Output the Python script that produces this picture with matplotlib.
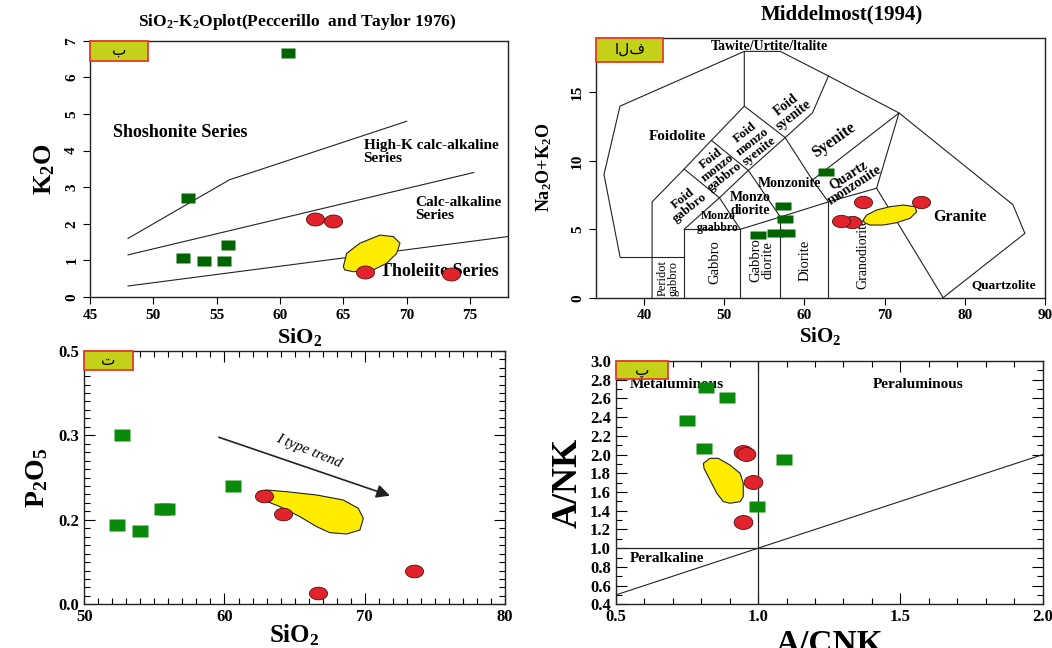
import numpy as np
import matplotlib
matplotlib.use('Agg')
import matplotlib.pyplot as plt
from matplotlib.patches import Polygon, Rectangle
from matplotlib.ticker import FixedLocator, MultipleLocator, FormatStrFormatter

plt.rcParams['font.family'] = ['Liberation Serif', 'DejaVu Sans']
plt.rcParams['font.weight'] = 'bold'
plt.rcParams['axes.labelweight'] = 'bold'
plt.rcParams['axes.titleweight'] = 'bold'
plt.rcParams['mathtext.default'] = 'regular'

# ---------------- data: panel (b) SiO2 - K2O ----------------
k_sio2_green = [60.6, 52.7, 55.9, 52.3, 54.0, 55.6]
k_k2o_green = [6.66, 2.70, 1.42, 1.06, 0.99, 0.99]
k_sio2_red = [62.8, 64.2, 66.7, 73.5]
k_k2o_red = [2.13, 2.08, 0.69, 0.62]
k_field_x = [65.0, 65.26, 66.31, 67.89, 68.94, 69.47, 69.21, 68.42, 67.36, 65.78, 65.1]
k_field_y = [0.83, 1.19, 1.47, 1.69, 1.65, 1.47, 1.19, 0.92, 0.74, 0.69, 0.74]
k_shoshonite_x = [48, 56, 70]
k_shoshonite_y = [1.6, 3.2, 4.8]
k_highk_x = [48, 75.3]
k_highk_y = [1.15, 3.4]
k_calc_x = [48, 78]
k_calc_y = [0.3, 1.65]

# ---------------- data: panel (alef) Middlemost TAS ----------------
t_sio2_green = [62.65, 57.3, 57.6, 54.2, 56.3, 57.85]
t_alk_green = [9.16, 6.7, 5.72, 4.58, 4.75, 4.7]
t_sio2_red = [67.3, 74.6, 65.9, 64.6]
t_alk_red = [7.0, 7.0, 5.55, 5.63]
t_field_x = [67.34, 67.76, 69.01, 70.67, 72.33, 73.8, 74.0, 73.17, 71.5, 69.84, 68.18, 67.47]
t_field_y = [5.68, 6.04, 6.41, 6.65, 6.77, 6.65, 6.28, 5.8, 5.48, 5.31, 5.31, 5.48]
tas_boundaries = [
    [(37, 3), (35, 9), (37, 14), (52.5, 18), (57, 18), (63, 16.2), (71.8, 13.5),
     (86, 6.8), (87.5, 4.7), (77.3, 0)],
    [(37, 3), (45, 3)],
    [(41, 0), (41, 7), (45, 9.4), (48.4, 11.5), (52.5, 14), (52.5, 18)],
    [(45, 0), (45, 5), (52, 5), (52, 0)],
    [(45, 5), (49.4, 7.3), (52, 5)],
    [(45, 9.4), (49.4, 7.3), (53, 9.3), (48.4, 11.5)],
    [(52.5, 14), (57.6, 11.7), (53, 9.3), (57, 5.9)],
    [(57.6, 11.7), (61, 13.5), (63, 16.2)],
    [(57.6, 11.7), (61, 8.6), (63, 7)],
    [(61, 8.6), (71.8, 13.5), (69, 8), (77.3, 0)],
    [(52, 5), (57, 5.9), (63, 7), (69, 8)],
    [(57, 0), (57, 5.9)],
    [(63, 0), (63, 7)],
]
# (text, x, y, rotation, bold, size)
tas_labels = [
    ('Tawite/Urtite/ltalite', 55.6, 18.35, 0, True, 10),
    ('Foidolite', 44.2, 11.8, 0, True, 11),
    ('Foid\nmonzo\nsyenite', 53.5, 11.4, 38, True, 9.5),
    ('Foid\nsyenite', 58.2, 13.7, 38, True, 10),
    ('Syenite', 63.7, 11.5, 35, True, 11.5),
    ('Foid\nmonzo\ngabbro', 49.2, 9.5, 38, True, 9.5),
    ('Foid\ngabbro', 45.3, 6.9, 38, True, 9.5),
    ('Monzo\ngaabbro', 49.2, 5.55, 0, True, 8.5),
    ('Monzo\ndiorite', 53.3, 6.85, 0, True, 10),
    ('Monzonite', 58.1, 8.36, 0, True, 10),
    ('Quartz\nmonzonite', 65.9, 8.6, 33, True, 10),
    ('Peridot\ngabbro', 43.0, 1.42, 90, False, 9),
    ('Gabbro', 48.8, 2.63, 90, False, 10.5),
    ('Gabbro\ndiorite', 54.7, 2.75, 90, False, 10.5),
    ('Diorite', 60.1, 2.75, 90, False, 10.5),
    ('Granodiorite', 67.3, 3.24, 90, False, 10),
    ('Granite', 79.4, 5.92, 0, True, 11.5),
    ('Quartzolite', 84.8, 0.93, 0, True, 9.5),
]

# ---------------- data: panel (te) SiO2 - P2O5 ----------------
p_sio2_green = [52.7, 60.6, 55.55, 55.87, 52.3, 54.0]
p_p2o5_green = [0.300, 0.240, 0.213, 0.213, 0.188, 0.173]
p_sio2_red = [62.8, 64.2, 66.7, 73.5]
p_p2o5_red = [0.228, 0.207, 0.027, 0.080]
p_field_x = [62.41, 63.01, 64.44, 66.58, 68.47, 69.54, 69.9, 69.66, 68.72, 67.52,
             66.58, 65.39, 63.96, 62.77, 62.3]
p_field_y = [0.2332, 0.2352, 0.2332, 0.2293, 0.2234, 0.2136, 0.2017, 0.1758, 0.1664,
             0.1694, 0.1836, 0.2036, 0.2155, 0.2234, 0.2293]
p_trend_start = (59.6, 0.2976)
p_trend_end = (71.8, 0.2285)
p_tick_values = [0.0, 0.2, 0.3, 0.5]
p_tick_labels = ['0.0', '0.2', '0.3', '0.5']

# ---------------- data: panel (pe) A/CNK - A/NK ----------------
a_cnk_green = [0.817, 0.89, 0.752, 0.81, 1.091, 0.995]
a_nk_green = [2.72, 2.62, 2.37, 2.07, 1.95, 1.455]
a_cnk_red = [0.946, 0.958, 0.983, 0.948]
a_nk_red = [2.03, 2.006, 1.71, 1.277]
a_field_x = [0.808, 0.831, 0.86, 0.901, 0.937, 0.948, 0.948, 0.937, 0.901, 0.878, 0.855, 0.831, 0.81]
a_field_y = [1.907, 1.96, 1.96, 1.889, 1.80, 1.693, 1.55, 1.497, 1.48, 1.497, 1.587, 1.729, 1.854]

# ---------------- styles ----------------
DARK_GREEN = '#006400'
GREEN = '#0a8a0a'
RED = '#e3232b'
YELLOW = '#ffec00'
BOX_FACE = '#c3d119'
BOX_EDGE = '#e8392a'


def rect_marker(r):
    return [(-1, -r), (1, -r), (1, r), (-1, r), (-1, -r)]


def ell_marker(r):
    t = np.linspace(0, 2 * np.pi, 61)
    return list(zip(np.cos(t), r * np.sin(t)))


def add_box(ax, w, h, letter):
    ax.add_patch(Rectangle((0, 1 - h), w, h, transform=ax.transAxes, facecolor=BOX_FACE,
                           edgecolor=BOX_EDGE, lw=1.3, zorder=10, clip_on=False))
    ax.text(w / 2, 1 - h / 2, letter, transform=ax.transAxes, ha='center', va='center',
            fontsize=11, fontweight='normal', family='DejaVu Sans', zorder=11)


def field(ax, xs, ys):
    ax.add_patch(Polygon(np.column_stack([xs, ys]), closed=True, facecolor=YELLOW,
                         edgecolor='#222222', lw=0.8, zorder=4, joinstyle='round'))


fig = plt.figure(figsize=(10.52, 6.48), dpi=100)

# ================= top-left =================
ax1 = fig.add_axes([0.0856, 0.5417, 0.3973, 0.3955])
ax1.plot(k_shoshonite_x, k_shoshonite_y, color='#222', lw=0.8, zorder=2)
ax1.plot(k_highk_x, k_highk_y, color='#222', lw=0.8, zorder=2)
ax1.plot(k_calc_x, k_calc_y, color='#222', lw=0.8, zorder=2)
ax1.text(46.8, 4.5, 'Shoshonite Series', fontsize=13, va='center', ha='left', zorder=3)
ax1.text(66.6, 3.96, 'High-K calc-alkaline\nSeries', fontsize=11, va='center', ha='left',
         linespacing=1.0, zorder=3, clip_on=True)
ax1.text(70.7, 2.39, 'Calc-alkaline\nSeries', fontsize=11, va='center', ha='left',
         linespacing=1.0, zorder=3, clip_on=True)
ax1.text(67.9, 0.69, 'Tholeiite Series', fontsize=13, va='center', ha='left', zorder=3,
         clip_on=True)
field(ax1, k_field_x, k_field_y)
ax1.plot(k_sio2_green, k_k2o_green, ls='none', marker=rect_marker(0.62), ms=10.5,
         mfc=DARK_GREEN, mec='none', zorder=6)
ax1.plot(k_sio2_red, k_k2o_red, ls='none', marker=ell_marker(0.72), ms=13,
         mfc=RED, mec='#4a1010', mew=0.6, zorder=7)
ax1.set_xlim(45, 78)
ax1.set_ylim(0, 7)
ax1.set_xticks(np.arange(45, 76, 5))
ax1.set_yticks(np.arange(0, 8, 1))
ax1.tick_params(direction='out', length=5, width=0.8, labelsize=11, top=False, right=False)
for lab in ax1.get_yticklabels():
    lab.set_rotation(90)
    lab.set_va('center')
ax1.set_xlabel('SiO$_2$', fontsize=16, labelpad=3)
ax1.set_ylabel('K$_2$O', fontsize=19, labelpad=6)
add_box(ax1, 0.139, 0.078, 'ب')

# ================= top-right =================
ax2 = fig.add_axes([0.5665, 0.5406, 0.4268, 0.4012])
for seg in tas_boundaries:
    xs, ys = zip(*seg)
    ax2.plot(xs, ys, color='#222', lw=0.8, zorder=2)
for txt, x, y, rot, bold, fs in tas_labels:
    ax2.text(x, y, txt, rotation=rot, fontsize=fs, fontweight='bold' if bold else 'normal',
             ha='center', va='center', linespacing=0.95, zorder=3, rotation_mode='anchor')
field(ax2, t_field_x, t_field_y)
ax2.plot(t_sio2_green, t_alk_green, ls='none', marker=rect_marker(0.55), ms=11,
         mfc=DARK_GREEN, mec='none', zorder=6)
ax2.plot(t_sio2_red, t_alk_red, ls='none', marker=ell_marker(0.68), ms=13,
         mfc=RED, mec='#4a1010', mew=0.6, zorder=7)
ax2.set_xlim(34, 90)
ax2.set_ylim(0, 19)
ax2.set_xticks(np.arange(40, 91, 10))
ax2.set_yticks([0, 5, 10, 15])
ax2.tick_params(direction='out', length=5, width=0.8, labelsize=11, top=False, right=False)
for lab in ax2.get_yticklabels():
    lab.set_rotation(90)
    lab.set_va('center')
ax2.set_xlabel('SiO$_2$', fontsize=15, labelpad=2)
ax2.set_ylabel('Na$_2$O+K$_2$O', fontsize=13, labelpad=12)
add_box(ax2, 0.15, 0.092, 'الف')

fig.text(0.2828, 0.9665, 'SiO$_2$-K$_2$Oplot(Peccerillo  and Taylor 1976)', fontsize=12.5,
         ha='center', va='center')
fig.text(0.7997, 0.9769, 'Middelmost(1994)', fontsize=15, ha='center', va='center')

# ================= bottom-left =================
ax3 = fig.add_axes([0.0801, 0.0674, 0.3999, 0.3914])
pos = np.arange(len(p_tick_values), dtype=float)


def p_fwd(v):
    return np.interp(v, p_tick_values, pos)


def p_inv(p):
    return np.interp(p, pos, p_tick_values)


ax3.set_yscale('function', functions=(p_fwd, p_inv))
ax3.set_xlim(50, 80)
ax3.set_ylim(0.0, 0.5)
field(ax3, p_field_x, p_field_y)
ax3.annotate('', xy=p_trend_end, xytext=p_trend_start,
             arrowprops=dict(arrowstyle='-|>', color='#222', lw=1.2, mutation_scale=20,
                             shrinkA=0, shrinkB=0), zorder=3)
ax3.text(66.0, 0.281, 'I type trend', rotation=-22, fontsize=11, fontstyle='italic',
         fontweight='normal', ha='center', va='center', zorder=3)
ax3.plot(p_sio2_green, p_p2o5_green, ls='none', marker=rect_marker(0.75), ms=11,
         mfc=GREEN, mec='none', zorder=6)
ax3.plot(p_sio2_red, p_p2o5_red, ls='none', marker=ell_marker(0.7), ms=13,
         mfc=RED, mec='#4a1010', mew=0.6, zorder=7)
ax3.yaxis.set_major_locator(FixedLocator(p_tick_values))
ax3.set_yticklabels(p_tick_labels)
ax3.yaxis.set_minor_locator(FixedLocator(p_inv(np.arange(0, 3.001, 0.1))))
ax3.set_xticks([50, 60, 70, 80])
ax3.xaxis.set_minor_locator(MultipleLocator(1))
ax3.tick_params(which='both', direction='in', top=True, right=True, labelsize=12, width=0.8)
ax3.tick_params(which='major', length=8)
ax3.tick_params(which='minor', length=4.5)
ax3.set_xlabel('SiO$_2$', fontsize=18, labelpad=-2)
ax3.set_ylabel('P$_2$O$_5$', fontsize=20, labelpad=6)
add_box(ax3, 0.115, 0.076, 'ت')

# ================= bottom-right =================
ax4 = fig.add_axes([0.5853, 0.0674, 0.4059, 0.3755])
ax4.set_xlim(0.5, 2.0)
ax4.set_ylim(0.4, 3.0)
ax4.axvline(1.0, color='#222', lw=0.9, zorder=2)
ax4.axhline(1.0, color='#222', lw=0.9, zorder=2)
ax4.plot([0.5, 2.0], [0.5, 2.0], color='#222', lw=0.8, zorder=2)
ax4.text(0.55, 2.744, 'Metaluminous', fontsize=11, ha='left', va='center', zorder=3)
ax4.text(1.563, 2.744, 'Peraluminous', fontsize=11, ha='center', va='center', zorder=3)
ax4.text(0.551, 0.888, 'Peralkaline', fontsize=11, ha='left', va='center', zorder=3)
field(ax4, a_field_x, a_field_y)
ax4.plot(a_cnk_green, a_nk_green, ls='none', marker=rect_marker(0.72), ms=11,
         mfc=GREEN, mec='none', zorder=6)
ax4.plot(a_cnk_red, a_nk_red, ls='none', marker=ell_marker(0.74), ms=13.5,
         mfc=RED, mec='#4a1010', mew=0.6, zorder=7)
ax4.set_xticks([0.5, 1.0, 1.5, 2.0])
ax4.xaxis.set_minor_locator(MultipleLocator(0.1))
ax4.set_yticks(np.arange(0.4, 3.01, 0.2))
ax4.yaxis.set_minor_locator(MultipleLocator(0.1))
ax4.xaxis.set_major_formatter(FormatStrFormatter('%.1f'))
ax4.yaxis.set_major_formatter(FormatStrFormatter('%.1f'))
ax4.tick_params(which='both', direction='in', top=True, right=True, labelsize=12, width=0.8)
ax4.tick_params(which='major', length=8)
ax4.tick_params(which='minor', length=4.5)
ax4.set_xlabel('A/CNK', fontsize=24, labelpad=3)
ax4.set_ylabel('A/NK', fontsize=26, labelpad=4)
add_box(ax4, 0.122, 0.075, 'پ')

for ax in (ax1, ax2, ax3, ax4):
    for s in ax.spines.values():
        s.set_linewidth(1.0)
        s.set_color('#222')

fig.savefig('out.png', dpi=100)
